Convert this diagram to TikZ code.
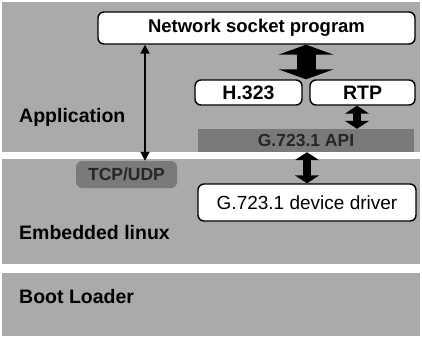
\documentclass[tikz,border=0pt]{standalone}
\usepackage{fontspec}
\setmainfont{Liberation Sans}
\usetikzlibrary{arrows.meta}
\definecolor{bandgray}{RGB}{170,170,170}
\definecolor{darkbox}{RGB}{122,122,122}
\tikzset{
  band/.style={fill=bandgray, draw=none},
  layerlabel/.style={anchor=west, inner sep=0pt, font=\fontsize{19.5}{21}\selectfont\bfseries},
  wbox/.style={draw=black, line width=1.4pt, fill=white, rounded corners=6pt, inner sep=0pt},
  dbox/.style={fill=darkbox, draw=none, inner sep=0pt, text=black!85, font=\fontsize{17.5}{19}\selectfont\bfseries},
  boldtxt/.style={font=\fontsize{18.5}{20}\selectfont\bfseries},
  thinarrow/.style={line width=2pt, {Triangle[width=9pt,length=9pt]}-{Triangle[width=9pt,length=9pt]}},
  fatarrow/.style={line width=19pt, {Triangle[width=55pt,length=10pt]}-{Triangle[width=55pt,length=10pt]}},
  midarrow/.style={line width=8pt, {Triangle[width=24pt,length=8pt]}-{Triangle[width=24pt,length=8pt]}}
}
\begin{document}
\begin{tikzpicture}[x=1pt,y=-1pt]
\useasboundingbox[fill=white] (0,0) rectangle (422,338);
% layer bands
\fill[band] (2,2) rectangle (420,152);
\fill[band] (2,159) rectangle (420,264);
\fill[band] (2,273) rectangle (420,336);
\node[layerlabel] (app) at (19,117) {Application};
\node[layerlabel] (emb) at (19,233) {Embedded linux};
\node[layerlabel] (boot) at (19,297) {Boot Loader};
% boxes
\node[wbox, boldtxt, minimum width=317pt, minimum height=32pt] (net) at (256.5,28) {Network socket program};
\node[wbox, boldtxt, font=\fontsize{19.5}{21}\selectfont\bfseries, minimum width=107pt, minimum height=25pt] (h323) at (248.5,92.5) {H.323};
\node[wbox, boldtxt, font=\fontsize{19.5}{21}\selectfont\bfseries, minimum width=105pt, minimum height=25pt] (rtp) at (362.5,92.5) {RTP};
\node[dbox, minimum width=216pt, minimum height=23pt] (api) at (306,140.5) {G.723.1 API};
\node[dbox, rounded corners=6pt, minimum width=101pt, minimum height=27pt] (tcp) at (126.5,174.5) {TCP/UDP};
\node[wbox, font=\fontsize{19}{21}\selectfont, minimum width=218pt, minimum height=37pt] (drv) at (307,202.5) {G.723.1 device driver};
% connectors
\coordinate (xthin) at (145,0);
\coordinate (xfat) at (306,0);
\coordinate (xrtp) at (357,0);
\coordinate (xdrv) at (307,0);
\draw[thinarrow] (net.south -| xthin) -- (tcp.north -| xthin);
\draw[fatarrow] (net.south -| xfat) -- (h323.north -| xfat);
\draw[midarrow] (rtp.south -| xrtp) -- (api.north -| xrtp);
\draw[midarrow] (api.south -| xdrv) -- (drv.north -| xdrv);
\end{tikzpicture}
\end{document}
